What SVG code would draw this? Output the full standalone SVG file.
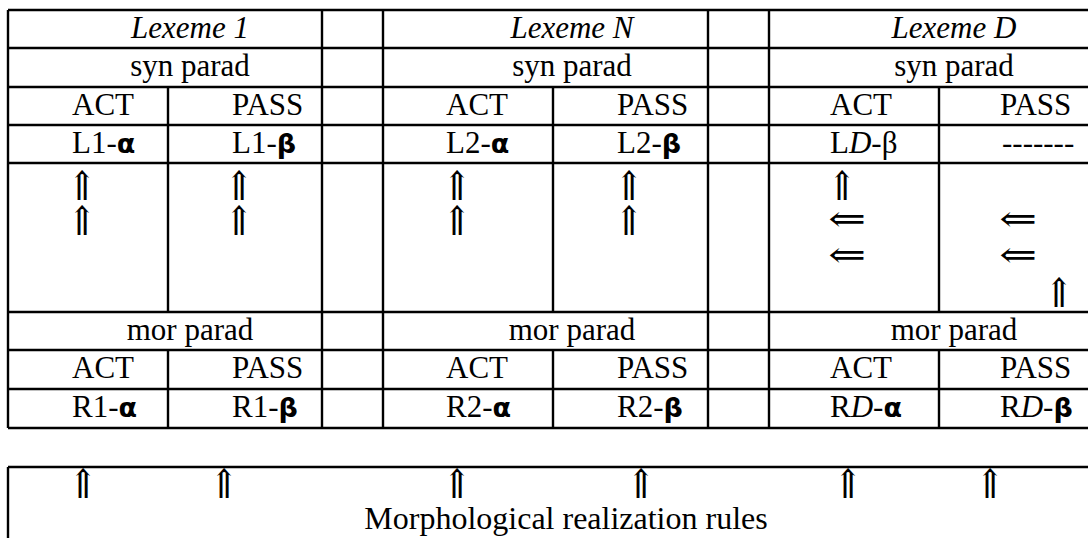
<svg xmlns="http://www.w3.org/2000/svg" width="1088" height="538" viewBox="0 0 1088 538">
<style>
.ln{stroke:#000;stroke-width:2.4;fill:none}
.t{font-family:"Liberation Serif","Times New Roman",serif;font-size:31px;fill:#000}
.c{text-anchor:middle}
.i{font-style:italic}
.g{font-family:"DejaVu Sans",sans-serif;font-weight:bold;font-size:27px}
.ar{font-family:"Liberation Serif","DejaVu Serif",serif;font-size:30px;fill:#000;text-anchor:middle}
</style>
<defs>
<text id="up" class="ar" transform="scale(1.2 1.35)">⇑</text>
<text id="left" class="ar" transform="scale(1.5 1.2)">⇐</text>
</defs>
<rect width="1088" height="538" fill="#fff"/>
<g id="grid">
<path class="ln" d="M8 10H1088M8 48H1088M8 87H1088M8 125H1088M8 163H1088M8 312H1088M8 350H1088M8 389H1088M8 428H1088"/>
<path class="ln" d="M8 10V428M322 10V428M383 10V428M708 10V428M769 10V428"/>
<path class="ln" d="M168 87V312M553 87V312M939 87V312M168 350V428M553 350V428M939 350V428"/>
</g>
<g id="lexeme1">
<text class="t i c" x="190" y="38">Lexeme 1</text>
<text class="t c" x="190" y="76">syn parad</text>
<text class="t" x="72" y="115">ACT</text>
<text class="t" x="232" y="115">PASS</text>
<text class="t" x="72" y="153">L1-<tspan class="g">α</tspan></text>
<text class="t" x="232" y="153">L1-<tspan class="g">β</tspan></text>
<text class="t c" x="190" y="340">mor parad</text>
<text class="t" x="72" y="378">ACT</text>
<text class="t" x="232" y="378">PASS</text>
<text class="t" x="72" y="417">R1-<tspan class="g">α</tspan></text>
<text class="t" x="232" y="417">R1-<tspan class="g">β</tspan></text>
</g>
<g id="lexemeN">
<text class="t i c" x="572" y="38">Lexeme N</text>
<text class="t c" x="572" y="76">syn parad</text>
<text class="t" x="446" y="115">ACT</text>
<text class="t" x="617" y="115">PASS</text>
<text class="t" x="446" y="153">L2-<tspan class="g">α</tspan></text>
<text class="t" x="617" y="153">L2-<tspan class="g">β</tspan></text>
<text class="t c" x="572" y="340">mor parad</text>
<text class="t" x="446" y="378">ACT</text>
<text class="t" x="617" y="378">PASS</text>
<text class="t" x="446" y="417">R2-<tspan class="g">α</tspan></text>
<text class="t" x="617" y="417">R2-<tspan class="g">β</tspan></text>
</g>
<g id="lexemeD">
<text class="t i c" x="954" y="38">Lexeme D</text>
<text class="t c" x="954" y="76">syn parad</text>
<text class="t" x="830" y="115">ACT</text>
<text class="t" x="1000" y="115">PASS</text>
<text class="t" x="830" y="153">L<tspan class="i">D</tspan>-β</text>
<text class="t" x="1002" y="153">-------</text>
<text class="t c" x="954" y="340">mor parad</text>
<text class="t" x="830" y="378">ACT</text>
<text class="t" x="1000" y="378">PASS</text>
<text class="t" x="830" y="417">R<tspan class="i">D</tspan>-<tspan class="g">α</tspan></text>
<text class="t" x="1000" y="417">R<tspan class="i">D</tspan>-<tspan class="g">β</tspan></text>
</g>
<g id="connectors">
<use href="#up" x="82" y="200"/>
<use href="#up" x="82" y="235"/>
<use href="#up" x="239" y="200"/>
<use href="#up" x="239" y="235"/>
<use href="#up" x="457" y="200"/>
<use href="#up" x="457" y="235"/>
<use href="#up" x="629" y="200"/>
<use href="#up" x="629" y="235"/>
<use href="#up" x="842" y="200"/>
<use href="#left" x="847" y="231"/>
<use href="#left" x="847" y="267"/>
<use href="#left" x="1018" y="231"/>
<use href="#left" x="1018" y="267"/>
<use href="#up" x="1059" y="307"/>
</g>
<g id="rules">
<path class="ln" d="M8 467H1088M8 467V538"/>
<use href="#up" x="83" y="498"/>
<use href="#up" x="224" y="498"/>
<use href="#up" x="457" y="498"/>
<use href="#up" x="641" y="498"/>
<use href="#up" x="848" y="498"/>
<use href="#up" x="990" y="498"/>
<text class="t c" x="566" y="529" style="font-size:32px">Morphological realization rules</text>
</g>
</svg>
